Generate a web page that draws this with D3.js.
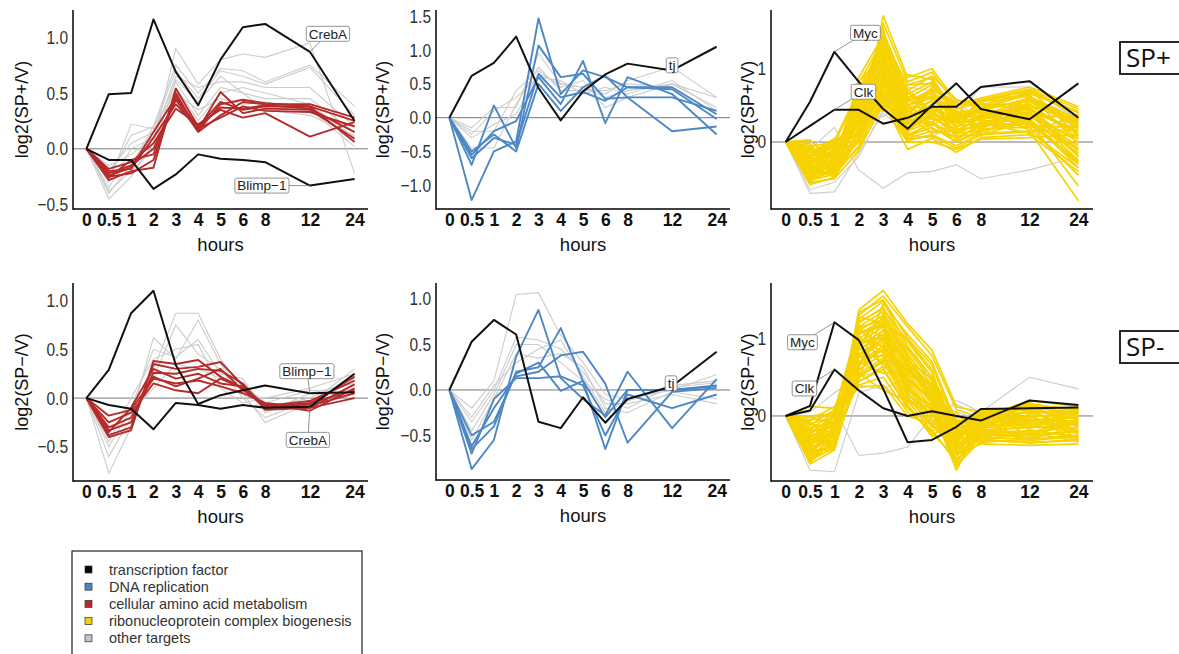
<!DOCTYPE html>
<html>
<head>
<meta charset="utf-8">
<script src="https://cdn.jsdelivr.net/npm/d3@7"></script>
<style>
  body { margin: 0; background: #fff; }
  text { font-family: "Liberation Sans", Arial, Helvetica, sans-serif; }
</style>
</head>
<body>
<div id="chart"></div>
<script type="text/javascript">
// time points (hours) and their axis labels
const hours = [0, 0.5, 1, 2, 3, 4, 5, 6, 8, 12, 24];
const hourLabels = ["0", "0.5", "1", "2", "3", "4", "5", "6", "8", "12", "24"];

// ---------- SP+ / V ----------
const aminoPlusTFNames = ["CrebA", "Blimp\u22121"];
const aminoPlusTF = [
  [0, 0.49, 0.50, 1.16, 0.69, 0.39, 0.80, 1.09, 1.12, 0.87, 0.25],
  [0, -0.10, -0.10, -0.36, -0.23, -0.05, -0.09, -0.10, -0.12, -0.33, -0.27]
];
const aminoPlus = [
  [0, -0.28, -0.20, -0.17, 0.54, 0.20, 0.42, 0.35, 0.38, 0.38, 0.25],
  [0, -0.25, -0.22, -0.10, 0.48, 0.17, 0.51, 0.32, 0.36, 0.35, 0.09],
  [0, -0.22, -0.15, 0.00, 0.44, 0.15, 0.30, 0.42, 0.40, 0.40, 0.28],
  [0, -0.20, -0.18, 0.10, 0.40, 0.18, 0.28, 0.38, 0.34, 0.33, 0.20],
  [0, -0.18, -0.12, 0.05, 0.36, 0.22, 0.35, 0.28, 0.32, 0.11, 0.24],
  [0, -0.26, -0.10, -0.05, 0.50, 0.16, 0.40, 0.44, 0.41, 0.38, 0.06],
  [0, -0.24, -0.17, 0.15, 0.46, 0.19, 0.37, 0.36, 0.39, 0.36, 0.15]
];
const aminoPlusOther = [
  [0, -0.45, -0.25, 0.05, 0.90, 0.58, 0.80, 0.85, 0.82, 0.95, -0.22],
  [0, -0.40, -0.15, 0.20, 0.75, 0.50, 0.72, 0.70, 0.60, 0.75, 0.38],
  [0, -0.30, 0.22, 0.18, 0.70, 0.45, 0.70, 0.65, 0.58, 0.73, 0.30],
  [0, -0.35, 0.00, 0.10, 0.65, 0.55, 0.60, 0.60, 0.55, 0.55, 0.20],
  [0, -0.20, 0.05, 0.15, 0.60, 0.30, 0.55, 0.50, 0.45, 0.45, 0.15],
  [0, -0.15, -0.05, 0.10, 0.55, 0.25, 0.50, 0.55, 0.50, 0.40, 0.10],
  [0, -0.25, 0.12, 0.20, 0.50, 0.35, 0.45, 0.40, 0.42, 0.35, 0.02],
  [0, -0.38, -0.20, 0.00, 0.62, 0.42, 0.65, 0.50, 0.35, 0.30, 0.12]
];

const dnaPlusTFNames = ["tj"];
const dnaPlusTF = [
  [0, 0.62, 0.81, 1.20, 0.44, -0.04, 0.39, 0.64, 0.80, 0.70, 1.05]
];
const dnaPlus = [
  [0, -1.22, -0.50, -0.35, 1.47, 0.35, 0.70, 0.60, 0.45, 0.42, -0.02],
  [0, -0.70, 0.18, -0.45, 1.07, 0.60, 0.65, 0.28, 0.30, 0.30, 0.10],
  [0, -0.55, -0.20, -0.05, 0.60, 0.20, 0.84, -0.08, 0.60, 0.35, -0.25],
  [0, -0.50, -0.25, -0.50, 0.50, 0.10, 0.45, 0.62, 0.30, -0.20, -0.13],
  [0, -0.60, -0.30, -0.40, 0.65, 0.30, 0.38, 0.25, 0.45, 0.45, 0.05]
];
const dnaPlusOther = [
  [0, -0.15, 0.15, 0.15, 0.95, 0.50, 0.45, 0.35, 0.55, 0.75, 0.30],
  [0, -0.20, -0.20, 0.40, 0.70, 0.45, 0.55, 0.15, 0.30, 0.50, 0.30],
  [0, -0.30, -0.10, 0.05, 0.65, 0.50, 0.45, 0.30, 0.40, 0.50, 0.15],
  [0, -0.45, -0.45, 0.20, 0.75, 0.40, 0.40, 0.40, 0.50, 0.45, 0.05],
  [0, -0.25, 0.10, 0.30, 0.60, 0.55, 0.35, 0.45, 0.35, 0.55, 0.10]
];

const riboPlusTFNames = ["Myc", "Clk"];
const riboPlusTF = [
  [0, 0.55, 1.23, 0.82, 0.45, 0.18, 0.50, 0.80, 0.45, 0.31, 0.80],
  [0, 0.22, 0.44, 0.44, 0.25, 0.33, 0.48, 0.48, 0.75, 0.83, 0.33]
];
const riboPlus = [
  [0, -0.58, -0.48, 0.05, 1.72, 0.88, 1.00, 0.55, 0.58, 0.72, 0.45],
  [0, -0.55, -0.50, 0.20, 1.62, 0.82, 0.95, 0.50, 0.60, 0.75, 0.48],
  [0, -0.52, -0.44, 0.40, 1.50, 0.70, 0.90, 0.58, 0.50, 0.68, 0.40],
  [0, -0.50, -0.40, 0.88, 1.45, 0.65, 0.82, 0.45, 0.55, 0.62, 0.30],
  [0, -0.48, -0.36, 0.80, 1.40, 0.60, 0.78, 0.40, 0.45, 0.70, 0.35],
  [0, -0.45, -0.32, 0.72, 1.35, 0.55, 0.72, 0.52, 0.48, 0.55, 0.20],
  [0, -0.42, -0.30, 0.66, 1.30, 0.50, 0.68, 0.35, 0.42, 0.60, 0.25],
  [0, -0.40, -0.26, 0.60, 1.25, 0.62, 0.60, 0.30, 0.52, 0.50, 0.10],
  [0, -0.38, -0.22, 0.55, 1.20, 0.45, 0.55, 0.42, 0.40, 0.45, 0.15],
  [0, -0.35, -0.18, 0.50, 1.15, 0.40, 0.65, 0.25, 0.35, 0.52, 0.05],
  [0, -0.32, -0.15, 0.45, 1.10, 0.36, 0.50, 0.20, 0.38, 0.40, 0.00],
  [0, -0.30, -0.12, 0.40, 1.05, 0.32, 0.45, 0.28, 0.30, 0.48, -0.10],
  [0, -0.28, -0.10, 0.35, 1.00, 0.28, 0.42, 0.15, 0.32, 0.35, -0.05],
  [0, -0.25, -0.06, 0.30, 0.95, 0.25, 0.38, 0.22, 0.25, 0.42, -0.20],
  [0, -0.22, -0.03, 0.25, 0.90, 0.20, 0.35, 0.10, 0.28, 0.30, -0.15],
  [0, -0.20, 0.00, 0.20, 0.85, 0.18, 0.32, 0.18, 0.20, 0.38, -0.25],
  [0, -0.18, 0.03, 0.15, 0.80, 0.15, 0.28, 0.05, 0.22, 0.25, -0.30],
  [0, -0.15, 0.05, 0.10, 0.75, 0.10, 0.25, 0.12, 0.15, 0.32, -0.35],
  [0, -0.12, -0.20, 0.05, 0.70, 0.08, 0.20, 0.00, 0.18, 0.20, -0.45],
  [0, -0.10, -0.35, 0.00, 0.65, 0.05, 0.15, 0.08, 0.10, 0.28, -0.60],
  [0, -0.08, -0.45, -0.05, 0.60, 0.02, 0.10, -0.05, 0.12, 0.15, -0.80],
  [0, -0.05, -0.50, -0.12, 0.55, -0.10, 0.05, -0.14, 0.06, 0.10, -0.40],
  [0, -0.02, -0.42, -0.08, 0.50, 0.00, 0.00, -0.10, 0.04, 0.06, 0.10],
  [0, 0.02, -0.25, 0.62, 0.48, 0.92, 0.85, 0.32, 0.36, 0.58, 0.32],
  [0, 0.03, -0.30, 0.75, 0.42, 0.78, 0.88, 0.38, 0.44, 0.66, 0.42],
  [0, -0.56, -0.08, 0.48, 1.55, 0.30, 0.58, 0.48, 0.30, 0.20, 0.22],
  [0, -0.44, -0.38, 0.28, 1.28, 0.72, 0.40, 0.25, 0.58, 0.64, -0.02],
  [0, -0.30, 0.02, 0.70, 0.98, 0.40, 0.70, 0.02, 0.26, 0.12, 0.38],
  [0, -0.36, -0.46, 0.12, 0.70, 0.52, 0.22, 0.44, 0.08, 0.56, 0.28],
  [0, -0.50, -0.28, 0.82, 1.18, 0.12, 0.50, 0.30, 0.46, 0.30, -0.28],
  [0, -0.54, -0.34, 0.32, 1.08, 0.58, 0.62, 0.34, 0.44, 0.58, 0.18],
  [0, -0.46, -0.14, 0.58, 1.38, 0.48, 0.46, 0.26, 0.34, 0.44, 0.12],
  [0, -0.40, -0.42, 0.18, 0.88, 0.35, 0.75, 0.48, 0.28, 0.36, 0.34],
  [0, -0.34, -0.24, 0.44, 1.02, 0.68, 0.36, 0.12, 0.38, 0.26, -0.08],
  [0, -0.28, -0.04, 0.24, 0.62, 0.24, 0.28, 0.38, 0.16, 0.62, 0.26],
  [0, -0.24, -0.32, 0.66, 1.22, 0.30, 0.52, 0.20, 0.50, 0.46, -0.18],
  [0, -0.18, -0.16, 0.36, 0.82, 0.44, 0.18, 0.06, 0.22, 0.34, 0.04],
  [0, -0.14, -0.02, 0.08, 0.56, 0.16, 0.38, 0.32, 0.40, 0.22, 0.20],
  [0, -0.52, -0.38, 0.52, 1.34, 0.55, 0.68, 0.46, 0.54, 0.72, 0.08],
  [0, -0.48, -0.20, 0.74, 1.12, 0.26, 0.44, 0.14, 0.24, 0.40, -0.12],
  [0, -0.42, -0.28, 0.02, 0.78, 0.62, 0.32, 0.28, 0.46, 0.16, 0.16],
  [0, -0.38, -0.08, 0.46, 0.92, 0.08, 0.26, 0.00, 0.14, 0.28, -0.26],
  [0, -0.32, -0.48, 0.56, 1.42, 0.78, 0.80, 0.50, 0.56, 0.70, 0.40],
  [0, -0.26, -0.12, 0.14, 0.68, 0.34, 0.12, 0.16, 0.32, 0.50, 0.30],
  [0, -0.20, -0.40, 0.30, 0.60, 0.04, 0.08, -0.08, 0.10, 0.14, -0.35],
  [0, -0.06, 0.00, 0.64, 1.26, 0.50, 0.60, 0.36, 0.20, 0.60, 0.22]
];
const riboPlusOther = [
  [0, -0.10, 0.20, -0.38, -0.63, -0.42, -0.40, -0.31, -0.50, -0.38, -0.20],
  [0, -0.70, -0.68, -0.15, 0.40, 0.10, 0.05, 0.35, 0.75, 0.75, 0.30],
  [0, -0.65, -0.55, -0.20, 0.45, 0.75, 0.70, 0.55, 0.30, 0.60, 0.35],
  [0, -0.30, 0.00, 0.30, 0.35, 0.60, 0.10, 0.40, 0.20, 0.50, 0.25]
];

// ---------- SP- / V ----------
const aminoMinusTFNames = ["Blimp\u22121", "CrebA"];
const aminoMinusTF = [
  [0, 0.29, 0.87, 1.10, 0.34, -0.06, 0.03, 0.08, 0.13, 0.05, 0.06],
  [0, -0.07, -0.11, -0.32, -0.05, -0.07, -0.11, -0.07, -0.10, -0.09, 0.25]
];
const aminoMinus = [
  [0, -0.40, -0.33, 0.38, 0.35, 0.39, 0.22, 0.10, -0.10, -0.06, 0.22],
  [0, -0.38, -0.30, 0.35, 0.30, 0.32, 0.37, 0.13, -0.08, -0.03, 0.18],
  [0, -0.33, -0.25, 0.26, 0.25, 0.30, 0.28, 0.15, -0.12, -0.10, 0.14],
  [0, -0.30, -0.20, 0.22, 0.12, 0.20, 0.30, 0.08, -0.06, -0.13, 0.10],
  [0, -0.25, -0.15, 0.15, 0.08, 0.05, 0.20, 0.10, -0.10, -0.08, 0.05],
  [0, -0.18, -0.12, 0.20, 0.15, 0.18, 0.12, 0.05, -0.05, -0.10, 0.00],
  [0, -0.35, -0.10, 0.30, 0.20, 0.25, 0.15, 0.12, -0.09, -0.05, 0.08]
];
const aminoMinusOther = [
  [0, -0.77, -0.30, 0.30, 0.87, 0.87, 0.40, 0.10, -0.10, 0.00, 0.20],
  [0, -0.60, -0.20, 0.62, 0.40, 0.80, 0.35, 0.05, -0.25, -0.05, 0.30],
  [0, -0.50, -0.10, 0.50, 0.42, 0.60, 0.25, 0.20, -0.15, 0.05, 0.15],
  [0, -0.45, 0.00, 0.40, 0.50, 0.55, 0.10, -0.05, 0.00, 0.10, 0.25],
  [0, -0.30, -0.25, 0.20, 0.75, 0.45, 0.30, 0.00, -0.20, -0.02, 0.10],
  [0, -0.25, -0.15, 0.10, 0.35, 0.30, 0.20, 0.15, -0.05, 0.08, 0.05]
];

const dnaMinusTFNames = ["tj"];
const dnaMinusTF = [
  [0, 0.53, 0.77, 0.61, -0.35, -0.42, -0.08, -0.36, -0.10, 0.04, 0.42]
];
const dnaMinus = [
  [0, -0.87, -0.55, 0.37, 0.88, 0.13, -0.10, -0.28, 0.20, -0.42, 0.12],
  [0, -0.65, -0.40, 0.20, 0.25, 0.68, 0.10, -0.65, 0.00, 0.00, 0.05],
  [0, -0.62, -0.20, 0.15, 0.20, 0.38, 0.42, 0.07, -0.58, -0.02, 0.02],
  [0, -0.70, -0.10, 0.13, 0.13, 0.15, 0.05, -0.50, -0.05, -0.20, -0.05],
  [0, -0.50, -0.35, 0.18, 0.30, -0.01, 0.10, -0.30, 0.00, 0.00, 0.04]
];
const dnaMinusOther = [
  [0, -0.20, 0.10, 1.05, 1.07, 0.60, 0.30, -0.05, -0.10, 0.00, 0.17],
  [0, -0.35, 0.00, 0.58, 0.55, 0.45, 0.20, -0.15, -0.15, -0.05, -0.15],
  [0, -0.45, -0.05, 0.50, 0.50, 0.30, 0.10, -0.10, -0.20, 0.05, 0.10],
  [0, -0.55, -0.10, 0.40, 0.35, 0.40, 0.25, -0.20, -0.25, -0.02, -0.10],
  [0, -0.30, 0.05, 0.30, 0.45, 0.55, 0.15, -0.25, -0.12, 0.03, 0.08]
];

const riboMinusTFNames = ["Myc", "Clk"];
const riboMinusTF = [
  [0, 0.13, 1.21, 0.98, 0.35, -0.34, -0.31, -0.14, 0.09, 0.10, 0.11],
  [0, 0.07, 0.60, 0.33, 0.10, 0.00, 0.06, 0.00, -0.06, 0.20, 0.14]
];
const riboMinus = [
  [0, -0.62, -0.44, 1.37, 1.62, 1.19, 0.85, 0.12, 0.05, 0.10, 0.05],
  [0, -0.58, -0.40, 1.30, 1.55, 1.15, 0.78, 0.08, -0.02, 0.20, 0.12],
  [0, -0.55, -0.42, 1.25, 1.48, 0.90, 0.50, -0.05, -0.10, -0.05, -0.02],
  [0, -0.52, -0.35, 1.20, 1.40, 0.85, 0.45, -0.12, 0.02, 0.15, 0.08],
  [0, -0.50, -0.30, 1.15, 1.35, 0.80, 0.40, -0.20, -0.18, -0.15, -0.10],
  [0, -0.48, -0.38, 1.10, 1.30, 0.75, 0.35, -0.30, -0.25, -0.25, -0.20],
  [0, -0.45, -0.25, 1.05, 1.25, 0.70, 0.30, -0.40, -0.30, -0.35, -0.30],
  [0, -0.42, -0.20, 1.00, 1.20, 0.65, 0.25, -0.50, -0.36, -0.38, -0.36],
  [0, -0.40, -0.32, 0.95, 1.15, 0.60, 0.20, -0.58, -0.28, -0.30, -0.25],
  [0, -0.38, -0.15, 0.90, 1.10, 0.55, 0.15, -0.65, -0.20, -0.20, -0.15],
  [0, -0.35, -0.28, 0.85, 1.05, 0.50, 0.10, -0.70, -0.12, -0.10, -0.05],
  [0, -0.32, -0.10, 0.80, 1.00, 0.45, 0.05, -0.45, -0.05, 0.00, 0.00],
  [0, -0.30, -0.22, 0.75, 0.95, 0.40, 0.00, -0.35, 0.00, 0.05, 0.05],
  [0, -0.28, -0.05, 0.70, 0.90, 0.35, -0.05, -0.25, 0.06, 0.10, 0.10],
  [0, -0.25, -0.18, 0.65, 0.85, 0.30, -0.10, -0.15, -0.15, -0.12, -0.08],
  [0, -0.22, 0.00, 0.60, 0.80, 0.25, -0.15, -0.08, -0.22, -0.28, -0.18],
  [0, -0.20, -0.12, 0.55, 0.75, 0.20, -0.20, 0.00, -0.08, 0.12, -0.12],
  [0, -0.18, 0.05, 0.50, 0.70, 0.15, -0.27, 0.05, -0.32, -0.18, -0.28],
  [0, -0.15, -0.08, 0.45, 0.60, 0.10, -0.22, -0.55, 0.02, -0.08, 0.02],
  [0, -0.12, 0.08, 0.40, 0.50, 0.05, -0.18, -0.60, -0.15, 0.18, -0.22],
  [0, -0.10, -0.02, 0.37, 0.40, 0.00, -0.10, -0.48, -0.26, -0.22, -0.32],
  [0, -0.05, 0.12, 0.55, 0.33, 0.20, 0.10, -0.38, -0.12, -0.02, 0.06],
  [0, 0.00, 0.03, 0.70, 0.55, 0.60, 0.30, -0.22, 0.04, 0.08, -0.04],
  [0, 0.12, 0.10, 0.95, 1.00, 0.72, 0.48, -0.02, -0.04, 0.14, 0.00],
  [0, -0.60, -0.30, 1.28, 1.20, 0.98, 0.60, -0.42, -0.16, -0.32, -0.26],
  [0, -0.44, -0.44, 0.62, 1.45, 1.05, 0.70, -0.10, -0.34, 0.04, -0.14],
  [0, -0.36, 0.02, 1.12, 0.88, 0.48, 0.22, -0.62, -0.06, -0.12, 0.08],
  [0, -0.26, -0.26, 0.88, 0.68, 0.28, 0.02, -0.18, -0.24, 0.02, -0.34],
  [0, -0.08, -0.36, 0.48, 1.32, 0.68, 0.38, -0.32, 0.08, -0.26, -0.06],
  [0, -0.54, 0.06, 1.18, 0.62, 0.12, -0.24, -0.08, -0.02, -0.36, 0.10],
  [0, -0.56, -0.34, 1.22, 1.38, 0.96, 0.56, -0.26, -0.08, 0.06, 0.04],
  [0, -0.50, -0.16, 1.08, 1.18, 0.62, 0.32, -0.36, -0.20, -0.14, -0.18],
  [0, -0.46, -0.40, 0.92, 1.28, 0.78, 0.18, -0.50, -0.30, -0.24, -0.10],
  [0, -0.40, -0.06, 0.78, 0.98, 0.52, 0.42, -0.14, -0.10, 0.00, -0.24],
  [0, -0.34, -0.24, 0.66, 1.12, 0.38, 0.08, -0.44, 0.00, -0.16, 0.04],
  [0, -0.30, -0.32, 1.02, 0.82, 0.58, 0.28, -0.20, -0.28, 0.10, -0.30],
  [0, -0.24, 0.02, 0.58, 0.92, 0.42, -0.06, -0.28, -0.14, -0.06, -0.02],
  [0, -0.20, -0.14, 0.86, 1.06, 0.32, 0.14, -0.56, -0.34, -0.30, -0.14],
  [0, -0.16, -0.28, 0.52, 0.72, 0.66, 0.36, -0.10, 0.04, 0.12, 0.02],
  [0, -0.10, -0.18, 1.14, 1.24, 0.24, -0.12, -0.40, -0.22, -0.20, -0.26],
  [0, -0.06, 0.04, 0.76, 0.78, 0.18, 0.04, -0.30, -0.04, -0.04, -0.08],
  [0, -0.02, -0.10, 0.44, 0.64, 0.46, 0.20, -0.06, -0.12, 0.08, -0.20],
  [0, -0.58, -0.22, 1.34, 1.50, 1.00, 0.66, -0.16, -0.26, -0.22, -0.04],
  [0, -0.44, -0.30, 0.96, 1.02, 0.88, 0.50, -0.34, 0.06, -0.10, -0.12],
  [0, -0.38, 0.00, 0.68, 0.86, 0.62, 0.24, -0.46, -0.18, 0.16, 0.06],
  [0, -0.28, -0.38, 1.06, 1.16, 0.36, 0.12, -0.64, -0.32, -0.34, -0.32]
];
const riboMinusOther = [
  [0, -0.70, -0.72, 0.30, 0.40, 0.10, -0.10, 0.20, 0.05, 0.50, 0.35],
  [0, -0.60, 0.10, -0.51, -0.48, -0.40, 0.00, 0.15, 0.00, 0.10, 0.10],
  [0, 0.05, 0.30, 0.50, 0.60, 1.06, 0.30, -0.10, -0.10, 0.00, -0.20],
  [0, -0.30, -0.20, 0.40, 0.35, 0.50, 0.20, 0.05, -0.05, 0.05, 0.00]
];

// legend entries
const legendLabels = ["transcription factor", "DNA replication", "cellular amino acid metabolism",
  "ribonucleoprotein complex biogenesis", "other targets"];
const legendColors = ["#000000", "#4d88c4", "#b52b2b", "#f6d300", "#c4c4c4"];

const colTF = "#111111", colDNA = "#4d88c4", colAmino = "#b52b2b", colRibo = "#f6d300", colOther = "#cccccc";

const width = 1179, height = 654;
// hours are placed on evenly spaced slots, 8 -> 12 -> 24 get double gaps
const slots = [0, 1, 2, 3, 4, 5, 6, 7, 8, 10, 12];

const panels = [
  { x0: 73, x1: 368, y0: 10, y1: 209, dom: [-0.54, 1.245], ticks: [-0.5, 0, 0.5, 1], fmt: ".1f",
    title: "log2(SP+/V)", titleX: 22, other: aminoPlusOther, main: aminoPlus, color: colAmino, width: 1.9,
    tf: aminoPlusTF, tfNames: aminoPlusTFNames, labels: [[0, 18, -18], [1, -48, 0]] },
  { x0: 436, x1: 730, y0: 10, y1: 209, dom: [-1.352, 1.594], ticks: [-1, -0.5, 0, 0.5, 1, 1.5], fmt: ".1f",
    title: "log2(SP+/V)", titleX: 383, other: dnaPlusOther, main: dnaPlus, color: colDNA, width: 1.9,
    tf: dnaPlusTF, tfNames: dnaPlusTFNames, labels: [[0, 0, -5]] },
  { x0: 771, x1: 1093, y0: 10, y1: 209, dom: [-0.913, 1.80], ticks: [0, 1], fmt: "d",
    title: "log2(SP+/V)", titleX: 748, other: riboPlusOther, main: riboPlus, color: colRibo, width: 1.7,
    tf: riboPlusTF, tfNames: riboPlusTFNames, labels: [[0, 31, -19, 2], [1, 29, -18, 2]] },
  { x0: 73, x1: 368, y0: 283, y1: 481, dom: [-0.85, 1.18], ticks: [-0.5, 0, 0.5, 1], fmt: ".1f",
    title: "log2(SP\u2212/V)", titleX: 22, other: aminoMinusOther, main: aminoMinus, color: colAmino, width: 1.9,
    tf: aminoMinusTF, tfNames: aminoMinusTFNames, labels: [[0, -3, -22], [1, -2, 33]] },
  { x0: 436, x1: 730, y0: 283, y1: 480, dom: [-0.99, 1.176], ticks: [-0.5, 0, 0.5, 1], fmt: ".1f",
    title: "log2(SP\u2212/V)", titleX: 383, other: dnaMinusOther, main: dnaMinus, color: colDNA, width: 1.9,
    tf: dnaMinusTF, tfNames: dnaMinusTFNames, labels: [[0, -1, -3]] },
  { x0: 771, x1: 1093, y0: 283, y1: 481, dom: [-0.84, 1.717], ticks: [0, 1], fmt: "d",
    title: "log2(SP\u2212/V)", titleX: 748, other: riboMinusOther, main: riboMinus, color: colRibo, width: 1.7,
    tf: riboMinusTF, tfNames: riboMinusTFNames, labels: [[0, -32, 20, 2], [1, -30, 19, 2]] }
];

const svg = d3.select('#chart').append("svg")
  .attr("width", width)
  .attr("height", height);

panels.forEach(function(p) {
  const g = svg.append("g");
  const xSlot = d3.scaleLinear().domain([-0.6, 12.6]).range([p.x0, p.x1]);
  const x = d3.scaleLinear().domain(hours).range(slots.map(xSlot));
  const y = d3.scaleLinear().domain(p.dom).range([p.y1, p.y0]);

  const line = d3.line()
    .x(function(d, i) { return x(hours[i]); })
    .y(function(d) { return y(d); });

  // zero reference line
  g.append("line")
    .attr("x1", p.x0).attr("x2", p.x1)
    .attr("y1", y(0)).attr("y2", y(0))
    .style("stroke", "#555").style("stroke-width", 0.8);

  g.append("g").selectAll("path")
    .data(p.other).enter().append("path")
    .attr("d", line)
    .style("fill", "none").style("stroke", colOther).style("stroke-width", 1.1);

  g.append("g").selectAll("path")
    .data(p.main).enter().append("path")
    .attr("d", line)
    .style("fill", "none").style("stroke", p.color).style("stroke-width", p.width)
    .style("stroke-linejoin", "round");

  g.append("g").selectAll("path")
    .data(p.tf).enter().append("path")
    .attr("d", line)
    .style("fill", "none").style("stroke", colTF).style("stroke-width", 2)
    .style("stroke-linejoin", "round");

  // axes: plain lines, no ticks
  g.append("line").attr("x1", p.x0).attr("x2", p.x0).attr("y1", p.y0).attr("y2", p.y1 + 0.7)
    .style("stroke", "#000").style("stroke-width", 1.5);
  g.append("line").attr("x1", p.x0).attr("x2", p.x1).attr("y1", p.y1).attr("y2", p.y1)
    .style("stroke", "#000").style("stroke-width", 1.5);

  const yAxis = g.append("g")
    .attr("transform", "translate(" + p.x0 + ",0)")
    .call(d3.axisLeft(y).tickValues(p.ticks).tickFormat(d3.format(p.fmt)).tickSize(0).tickPadding(5));
  yAxis.select(".domain").remove();
  // glyphs in the original are a bit taller than wide
  yAxis.selectAll("text")
    .attr("transform", "scale(1,1.2)")
    .style("font-family", "'Liberation Sans', Arial, sans-serif")
    .style("font-size", "15.5px").style("fill", "#333");

  const xAxis = g.append("g")
    .attr("transform", "translate(0," + p.y1 + ")")
    .call(d3.axisBottom(x).tickValues(hours).tickFormat(function(d, i) { return hourLabels[i]; })
      .tickSize(0).tickPadding(5));
  xAxis.select(".domain").remove();
  xAxis.selectAll("text")
    .style("font-family", "'Liberation Sans', Arial, sans-serif")
    .style("font-size", "17.5px").style("font-weight", "bold").style("fill", "#111");

  g.append("text")
    .attr("x", (p.x0 + p.x1) / 2).attr("y", p.y1 + 42)
    .attr("text-anchor", "middle")
    .style("font-size", "18.5px").style("fill", "#111")
    .text("hours");

  g.append("text")
    .attr("transform", "translate(" + p.titleX + "," + ((p.y0 + p.y1) / 2) + ") rotate(-90)")
    .attr("dy", "0.35em")
    .attr("text-anchor", "middle")
    .style("font-size", "18px").style("fill", "#111")
    .text(p.title);

  // gene labels with leader lines
  p.labels.forEach(function(l) {
    const idx = l[3] !== undefined ? l[3] : 9;
    const px = x(hours[idx]), py = y(p.tf[l[0]][idx]);
    const cx = px + l[1], cy = py + l[2];
    g.append("line").attr("x1", px).attr("y1", py).attr("x2", cx).attr("y2", cy)
      .style("stroke", "#777").style("stroke-width", 0.8);
    const lab = g.append("g").attr("transform", "translate(" + cx + "," + cy + ")");
    const rect = lab.append("rect");
    const t = lab.append("text")
      .attr("text-anchor", "middle").attr("dy", "0.36em")
      .style("font-size", "13.5px").style("fill", "#222")
      .text(p.tfNames[l[0]]);
    const w = t.node().getComputedTextLength() + 5;
    rect.attr("x", -w / 2).attr("y", -7.5).attr("width", w).attr("height", 15)
      .attr("rx", 2).attr("ry", 2)
      .style("fill", "#fff").style("stroke", "#888").style("stroke-width", 0.9);
  });
});

// SP+ / SP- row tags
[["SP+", 42], ["SP-", 331]].forEach(function(d) {
  svg.append("rect")
    .attr("x", 1120).attr("y", d[1]).attr("width", 80).attr("height", 32)
    .style("fill", "none").style("stroke", "#111").style("stroke-width", 1.8);
  svg.append("text")
    .attr("x", 1126).attr("y", d[1] + 25)
    .style("font-family", "'Open Sans', 'Noto Sans', sans-serif")
    .style("font-size", "26px").style("fill", "#111")
    .text(d[0]);
});

// legend
const legend = svg.append("g").attr("id", "legend");
legend.append("rect")
  .attr("x", 72).attr("y", 551).attr("width", 290).attr("height", 130)
  .style("fill", "none").style("stroke", "#222").style("stroke-width", 1.2);
legend.selectAll("rect.key")
  .data(legendLabels).enter().append("rect")
  .attr("class", "key")
  .attr("x", 85).attr("y", function(d, i) { return 566 + i * 17.2; })
  .attr("width", 7).attr("height", 7)
  .style("fill", function(d, i) { return legendColors[i]; })
  .style("stroke", "#333").style("stroke-width", 0.7);
legend.selectAll("text")
  .data(legendLabels).enter().append("text")
  .attr("x", 109).attr("y", function(d, i) { return 569.5 + i * 17.2; })
  .attr("dy", "0.35em")
  .style("font-size", "14.5px").style("fill", "#333")
  .text(function(d) { return d; });
</script>
</body>
</html>
